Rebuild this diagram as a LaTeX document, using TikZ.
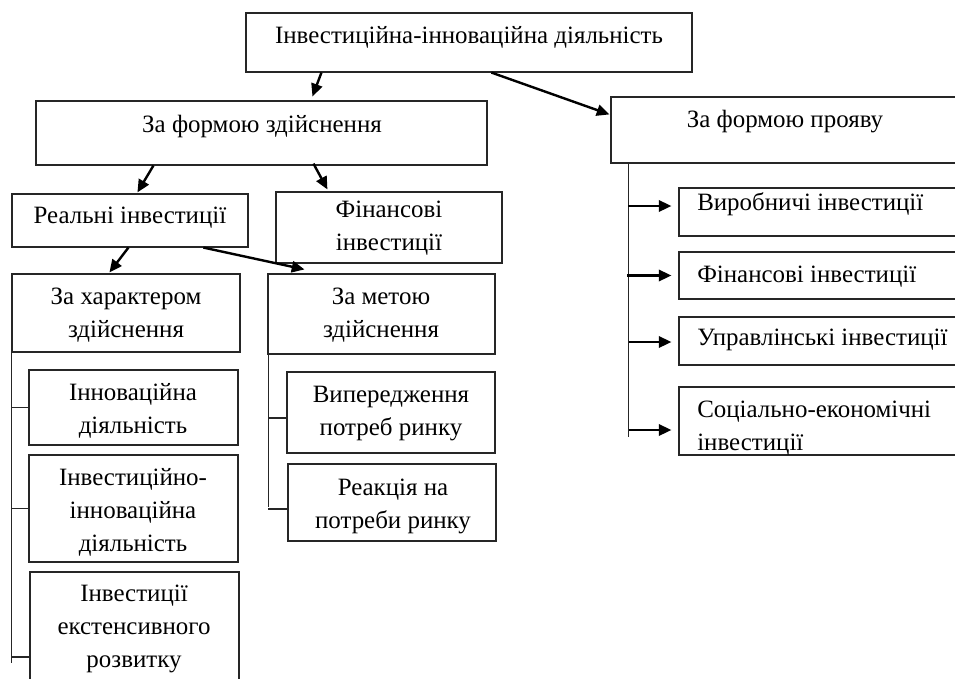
\documentclass[tikz,border=0pt]{standalone}
\usepackage{fontspec}
\setmainfont{Liberation Serif}
\usetikzlibrary{arrows.meta,fit,calc}
\tikzset{
  box/.style={draw=black!85, line width=0.85pt, inner sep=0pt, fit={#1}},
  txt/.style={font=\fontsize{18.7}{24.4}\selectfont, inner sep=0pt, anchor=base, align=center},
  ltxt/.style={font=\fontsize{18.7}{24.4}\selectfont, inner sep=0pt, anchor=base west, align=left},
  arr/.style={draw=black, line width=1.8pt, -{Triangle[length=9.5pt,width=8.5pt]}},
  tree/.style={draw=black!85, line width=0.85pt},
}
\begin{document}
\begin{tikzpicture}[x=0.75pt,y=-0.75pt]
\useasboundingbox (0,0) rectangle (955,678);
\clip (0,0) rectangle (955,678);
% boxes
\node[box={(246,13)(692,72)}] (top) {};
\node[box={(36,101)(487,165)}] (zfz) {};
\node[box={(611,97)(975,163)}] (zfp) {};
\node[box={(12,194)(248,247)}] (real) {};
\node[box={(276,192)(502,263)}] (fin) {};
\node[box={(12,274)(240,352)}] (char) {};
\node[box={(268,274)(495,354)}] (meta) {};
\node[box={(29,370)(238,445)}] (inn) {};
\node[box={(29,455)(238,562)}] (ii) {};
\node[box={(30,572)(239,742)}] (ext) {};
\node[box={(287,372)(495,453)}] (vyp) {};
\node[box={(288,464)(496,541)}] (reak) {};
\node[box={(679,188)(975,236)}] (vyr) {};
\node[box={(679,252)(975,299)}] (fin2) {};
\node[box={(679,317)(975,365)}] (upr) {};
\node[box={(679,387)(975,455)}] (soc) {};
% texts (base anchor = baseline of the last line)
\node[txt] (ttop) at (469,43) {Інвестиційна-інноваційна діяльність};
\node[txt] (tzfz) at (262,132) {За формою здійснення};
\node[txt] (tzfp) at (785,127) {За формою прояву};
\node[txt] (treal) at (130,223) {Реальні інвестиції};
\node[txt] (tfin) at (389,250) {Фінансові\\інвестиції};
\node[txt] (tchar) at (126,337) {За характером\\здійснення};
\node[txt] (tmeta) at (381,337) {За метою\\здійснення};
\node[txt] (tinn) at (133,433) {Інноваційна\\діяльність};
\node[txt] (tii) at (133,551) {Інвестиційно-\\інноваційна\\діяльність};
\node[txt] (text) at (134,667) {Інвестиції\\екстенсивного\\розвитку};
\node[txt] (tvyp) at (391,435) {Випередження\\потреб ринку};
\node[txt] (treak) at (393,528) {Реакція на\\потреби ринку};
\node[ltxt] (tvyr) at (697,210) {Виробничі інвестиції};
\node[ltxt] (tfin2) at (697,282) {Фінансові інвестиції};
\node[ltxt] (tupr) at (697,345) {Управлінські інвестиції};
\node[ltxt] (tsoc) at (697,450) {Соціально-економічні\\інвестиції};
% arrows
\draw[arr] ($(top.south west)+(76,0)$) -- ($(zfz.north west)+(277,-4)$);
\draw[arr] ($(top.south west)+(246,0)$) -- ($(zfp.north west)+(-1,18)$);
\draw[arr] ($(zfz.south west)+(118,0)$) -- ($(real.north west)+(126,-1)$);
\draw[arr] ($(zfz.south west)+(278,-2)$) -- ($(fin.north west)+(52,-2)$);
\draw[arr] ($(real.south west)+(117,0)$) -- ($(char.north west)+(98,-1)$);
\draw[arr] ($(real.south west)+(192,0)$) -- ($(meta.north west)+(37,-4)$);
% left tree
\draw[tree] (char.south west) -- ++(0,310) coordinate (lend);
\draw[tree] (char.south west |- inn.west) -- (inn.west);
\draw[tree] (char.south west |- ii.west) -- (ii.west);
\draw[tree] (char.south west |- ext.west) -- (ext.west);
% middle tree
\draw[tree] ($(meta.south west)+(1,0)$) -- ++(0,152) coordinate (mend);
\draw[tree] ($(meta.south west |- vyp.west)+(1,5.5)$) -- ($(vyp.west)+(0,5.5)$);
\draw[tree] ($(meta.south west |- reak.west)+(1,6.5)$) -- ($(reak.west)+(0,6.5)$);
% right tree
\draw[tree] ($(zfp.south west)+(18,0)$) -- ++(0,273) coordinate (rend);
\draw[arr] ($(zfp.south west |- vyr.west)+(18,-6)$) -- ($(vyr.west)+(-7,-6)$);
\draw[arr] ($(zfp.south west |- fin2.west)+(17,0)$) -- ($(fin2.west)+(-7,0)$);
\draw[arr] ($(zfp.south west |- upr.west)+(19,1)$) -- ($(upr.west)+(-7,1)$);
\draw[arr] ($(zfp.south west |- soc.west)+(19,9)$) -- ($(soc.west)+(-7,9)$);
\end{tikzpicture}
\end{document}
